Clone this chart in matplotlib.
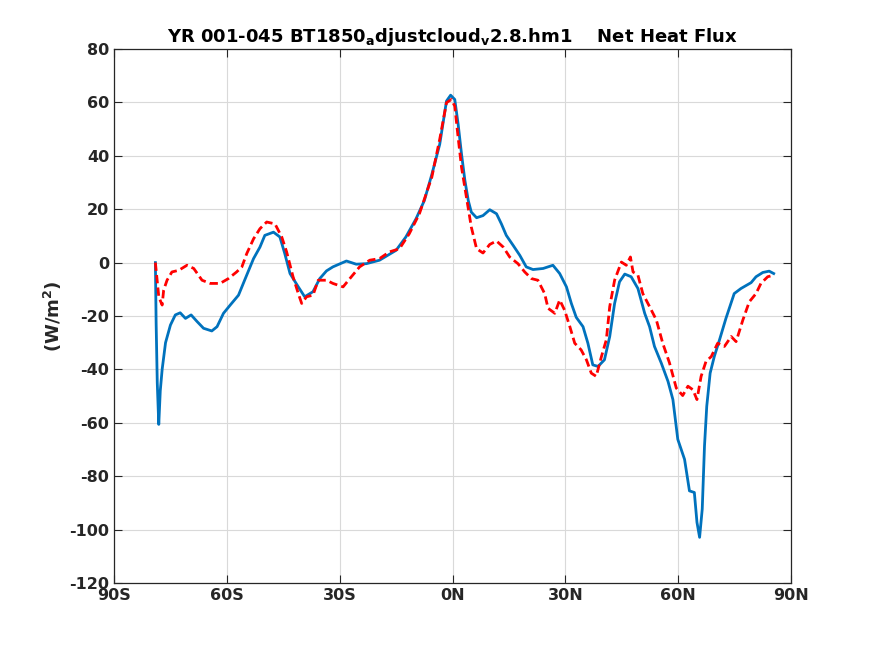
import matplotlib
matplotlib.use("Agg")
import matplotlib.pyplot as plt

# blue (solid) series: latitude, net heat flux
lat_blue = [-79.0, -78.8, -78.5, -78.1, -77.7, -77.2, -76.3, -75.0, -73.7, -72.4, -71.0,
            -69.5, -67.9, -66.2, -64.0, -62.6, -60.9, -59.1, -56.9, -55.1, -52.9,
            -51.2, -49.9, -47.6, -45.9, -44.6, -43.2, -41.0, -39.3, -37.1, -35.3,
            -33.5, -31.8, -28.2, -25.6, -22.9, -19.4, -15.0, -12.4, -9.7, -7.5,
            -5.5, -3.4, -1.6, -0.5, 0.6, 1.5, 2.4, 3.3, 4.2, 5.0, 6.4, 8.1, 9.9,
            11.7, 13.0, 14.3, 16.1, 17.9, 19.6, 21.4, 24.1, 26.7, 28.5, 30.3,
            31.6, 32.9, 34.7, 36.0, 37.3, 38.7, 40.4, 41.8, 43.1, 44.4, 45.8,
            47.5, 49.3, 51.1, 52.4, 53.7, 55.5, 57.3, 58.6, 59.9, 61.7, 63.0,
            64.3, 65.0, 65.7, 66.4, 67.0, 67.6, 68.5, 69.6, 71.0, 72.7, 74.9,
            76.7, 79.4, 80.7, 82.5, 84.2, 85.4]
flux_blue = [0.0, -22.7, -45.0, -60.6, -48.0, -40.0, -30.0, -23.4, -19.6, -18.8, -20.9,
             -19.6, -22.1, -24.6, -25.6, -24.0, -19.0, -15.9, -12.2, -6.0, 1.5,
             5.8, 10.2, 11.4, 9.6, 3.4, -4.1, -9.1, -12.8, -10.9, -6.0,
             -3.1, -1.6, 0.6, -0.6, -0.4, 0.9, 4.6, 9.6, 16.4, 23.2,
             33.0, 44.3, 60.5, 62.7, 61.1, 51.8, 40.6, 30.7, 23.2, 18.9, 16.8, 17.6, 19.8,
             18.3, 14.5, 10.2, 6.5, 2.7, -1.6, -2.6, -2.2, -1.0, -4.1, -9.1,
             -15.3, -20.5, -24.0, -30.2, -38.3, -38.9, -36.4, -27.7, -15.3, -7.2, -4.3,
             -5.3, -9.7, -19.0, -24.0, -31.4, -37.6, -44.5, -51.3, -66.2, -73.7, -85.5,
             -86.1, -97.3, -102.9, -92.3, -68.7, -53.8, -41.4, -35.2, -28.9, -20.9, -11.6,
             -9.7, -7.5, -5.3, -3.7, -3.2, -4.1]

# red (dashed) series
lat_red = [-79.0, -78.1, -77.2, -76.8, -75.9, -74.6, -72.8, -70.6, -68.8, -66.6, -64.4,
           -61.8, -59.6, -57.4, -56.0, -54.7, -52.9, -51.2, -49.4, -47.2, -45.4,
           -44.1, -42.4, -41.0, -40.1, -38.8, -37.1, -35.7, -33.5, -31.8, -29.1,
           -27.3, -24.7, -22.0, -19.4, -16.8, -14.1, -11.5, -8.8, -5.5,
           -3.4, -1.6, -0.3, 0.6, 1.5, 2.4, 3.7, 5.0, 6.4, 8.1, 9.9, 11.7, 13.5,
           15.2, 17.4, 19.2, 21.0, 22.7, 24.5, 25.4, 27.2, 28.5, 29.8, 31.2, 32.5,
           34.2, 35.6, 36.9, 38.2, 39.6, 40.9, 41.8, 43.1, 44.9, 46.2, 47.3, 48.0,
           49.3, 50.6, 52.4, 54.2, 55.9, 57.7, 59.5, 61.2, 62.6, 63.9, 65.0, 66.1,
           67.4, 68.8, 70.5, 72.3, 74.1, 75.4, 77.2, 78.9, 80.7, 82.0, 83.8, 85.4]
flux_red = [0.0, -12.8, -15.9, -10.3, -6.6, -3.5, -2.9, -1.0, -2.2, -6.6, -7.8,
            -7.8, -6.0, -3.5, -1.6, 3.4, 8.9, 12.7, 15.2, 14.5, 9.6,
            4.0, -5.3, -11.6, -15.3, -12.8, -12.2, -6.6, -6.6, -7.8, -9.1,
            -6.0, -1.6, 0.9, 1.5, 4.0, 5.2, 10.8, 18.3, 32.0,
            46.2, 59.9, 61.1, 58.6, 46.8, 35.7, 24.5, 13.3, 5.2, 3.6, 6.8, 8.1, 5.8,
            2.1, -0.4, -3.5, -6.0, -6.6, -11.6, -17.1, -19.0, -14.0, -17.8, -24.0, -30.2,
            -32.7, -36.4, -41.4, -42.6, -35.2, -28.9, -16.5, -6.6, 0.2, -1.0, 2.1, -3.5,
            -4.7, -11.6, -16.5, -21.5, -30.2, -37.6, -47.0, -49.8, -46.3, -47.6, -51.3, -42.6,
            -37.0, -35.2, -30.2, -31.4, -27.7, -29.6, -21.5, -14.7, -11.6, -7.8, -5.3, -4.7]

xticks = [-90, -60, -30, 0, 30, 60, 90]
xticklabels = ['90S', '60S', '30S', '0N', '30N', '60N', '90N']
yticks = list(range(-120, 81, 20))

plt.rcParams['font.family'] = 'DejaVu Sans'
plt.rcParams['font.weight'] = 'bold'
plt.rcParams['mathtext.default'] = 'bf'
plt.rcParams['axes.unicode_minus'] = False

fig = plt.figure(figsize=(8.75, 6.56), dpi=100)
ax = fig.add_axes([0.1303, 0.1113, 0.7737, 0.814])

ax.plot(lat_blue, flux_blue, color='#0072BD', linewidth=2.0)
ax.plot(lat_red, flux_red, color='#FF0000', linewidth=2.0, linestyle=(0, (3, 1.5)))

ax.set_xlim(-90, 90)
ax.set_ylim(-120, 80)
ax.set_xticks(xticks)
ax.set_xticklabels(xticklabels)
ax.set_yticks(yticks)

ax.grid(True, color='#d9d9d9', linewidth=0.8)
ax.set_axisbelow(True)
ax.tick_params(direction='in', top=True, right=True, length=6, width=0.8,
               labelsize=11.5, colors='#262626', labelcolor='#262626')
for lab in ax.get_xticklabels() + ax.get_yticklabels():
    lab.set_fontweight('bold')
for sp in ax.spines.values():
    sp.set_color('#262626')
    sp.set_linewidth(0.9)

ax.set_ylabel('(W/m$^{2}$)', fontsize=13, fontweight='bold', color='#262626', labelpad=4)
ax.set_title('YR 001-045 BT1850$_{a}$djustcloud$_{v}$2.8.hm1    Net Heat Flux',
             fontsize=13, fontweight='bold', pad=5)

fig.savefig('out.png', dpi=100)
